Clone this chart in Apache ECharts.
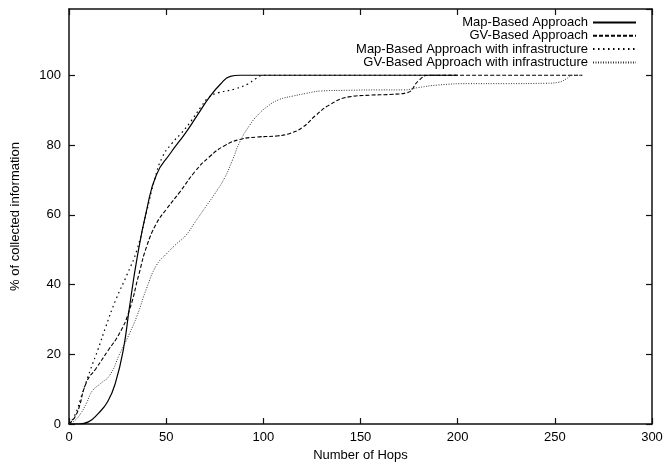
<!DOCTYPE html>
<html>
<head>
<meta charset="utf-8">
<script src="https://cdn.jsdelivr.net/npm/echarts@6/dist/echarts.min.js"></script>
<style>
html,body{margin:0;padding:0;background:#fff;}
#chart{width:666px;height:468px;}
</style>
</head>
<body>
<div id="chart"></div>
<script>
const seriesNames = [
  'Map-Based Approach',
  'GV-Based Approach',
  'Map-Based Approach with infrastructure',
  'GV-Based Approach with infrastructure'
];
const xTicks = [0, 50, 100, 150, 200, 250, 300];
const yTicks = [0, 20, 40, 60, 80, 100];

// [hops, % collected]
const mapBased = [[0,0],[5,0],[10,0.6],[15,3],[20,6.5],[24,12],[28,21.5],[31,33],[35,47.5],[40,61.5],[45,71.5],[52,77.5],[60,83.5],[66,88.5],[72,93.5],[78,97.5],[83,99.7],[88,100],[200,100]];
const gvBased = [[0,0],[4,3],[9,12],[14,16],[20,21],[26,26],[31,32.5],[36,43],[40,51],[45,57.5],[50,61.5],[57,66.5],[65,72.5],[72,76.5],[80,79.8],[88,81.6],[97,82.3],[107,82.6],[114,83.4],[120,85],[127,88.5],[134,91.5],[144,93.8],[155,94.3],[165,94.5],[174,95],[180,98.5],[185,100],[264,100]];
const mapInfra = [[0,0],[3,2.5],[7,9],[11,15.5],[15,21.5],[19,28],[24,35.5],[30,43],[35,50],[40,61],[44,70],[48,76.5],[53,80.5],[58,83.5],[63,87],[68,91],[72,93.7],[77,95],[85,96],[92,97.5],[96,99],[100,100],[200,100]];
const gvInfra = [[0,0],[3,1],[6,3],[9,6],[12,9.5],[16,11.5],[21,14],[26,20],[31,25.8],[35,31],[40,39],[45,45.5],[50,48.7],[55,51.5],[60,54],[65,58],[70,62],[75,66],[80,70.5],[84,75.5],[88,81],[93,85.7],[97,88.5],[102,91],[108,93],[115,94],[122,94.8],[130,95.5],[145,95.7],[160,95.8],[172,95.8],[180,96.5],[190,97.2],[206,97.6],[225,97.6],[245,97.7],[252,98],[256,99],[259,100],[265,100]];

const FONT = 'Liberation Sans, Arial, Helvetica, sans-serif';
const axisLineStyle = { color: '#111', width: 1.5 };

const chart = echarts.init(document.getElementById('chart'), null, { renderer: 'canvas' });

function mkSeries(name, data, type, width, color) {
  return {
    name: name,
    type: 'line',
    data: data,
    xAxisIndex: 0,
    yAxisIndex: 0,
    showSymbol: false,
    symbol: 'none',
    smooth: 0.5,
    lineStyle: { color: color, width: width, type: type },
    itemStyle: { color: color },
    emphasis: { disabled: true },
    z: 3
  };
}

chart.setOption({
  animation: false,
  backgroundColor: '#fff',
  textStyle: { fontFamily: FONT },
  grid: { left: 69, right: 14, top: 9, bottom: 44, containLabel: false, outerBoundsMode: 'none' },
  legend: {
    orient: 'vertical',
    right: 24,
    top: 11,
    align: 'right',
    itemWidth: 43,
    itemHeight: 10,
    itemGap: 0.3,
    selectedMode: false,
    itemStyle: { color: 'rgba(0,0,0,0)', borderWidth: 0, opacity: 0 },
    textStyle: { fontFamily: FONT, fontSize: 13, color: '#000' },
    data: seriesNames
  },
  xAxis: [
    {
      type: 'value', min: xTicks[0], max: xTicks[xTicks.length - 1], interval: 50,
      name: 'Number of Hops', nameLocation: 'middle', nameGap: 17,
      nameTextStyle: { fontFamily: FONT, fontSize: 13, color: '#000' },
      axisLine: { show: true, onZero: false, lineStyle: axisLineStyle },
      axisTick: { show: true, inside: true, length: 6, lineStyle: { color: '#111', width: 1.2 } },
      axisLabel: { fontFamily: FONT, fontSize: 13, color: '#000', margin: 7,
        formatter: v => xTicks.indexOf(v) >= 0 ? String(v) : '' },
      splitLine: { show: false }
    },
    {
      type: 'value', position: 'top', min: xTicks[0], max: xTicks[xTicks.length - 1], interval: 50,
      axisLine: { show: true, onZero: false, lineStyle: axisLineStyle },
      axisTick: { show: true, inside: true, length: 6, lineStyle: { color: '#111', width: 1.2 } },
      axisLabel: { show: false },
      splitLine: { show: false }
    }
  ],
  yAxis: [
    {
      type: 'value', min: 0, max: 119, interval: 20,
      name: '% of collected information', nameLocation: 'middle', nameGap: 47, nameRotate: 90,
      nameTextStyle: { fontFamily: FONT, fontSize: 13, color: '#000' },
      axisLine: { show: true, onZero: false, lineStyle: axisLineStyle },
      axisTick: { show: true, inside: true, length: 6, lineStyle: { color: '#111', width: 1.2 } },
      axisLabel: { fontFamily: FONT, fontSize: 13, color: '#000', margin: 8, showMaxLabel: false,
        formatter: v => yTicks.indexOf(v) >= 0 ? String(v) : '' },
      splitLine: { show: false }
    },
    {
      type: 'value', position: 'right', min: 0, max: 119, interval: 20,
      axisLine: { show: true, onZero: false, lineStyle: axisLineStyle },
      axisTick: { show: true, inside: true, length: 6, lineStyle: { color: '#111', width: 1.2 } },
      axisLabel: { show: false },
      splitLine: { show: false }
    }
  ],
  series: [
    mkSeries(seriesNames[0], mapBased, 'solid', 1.2, '#000'),
    mkSeries(seriesNames[1], gvBased, [4, 2], 1.1, '#000'),
    mkSeries(seriesNames[2], mapInfra, [1.5, 3.5], 1.2, '#000'),
    mkSeries(seriesNames[3], gvInfra, [1, 1.5], 1, '#333')
  ]
});
</script>
</body>
</html>
